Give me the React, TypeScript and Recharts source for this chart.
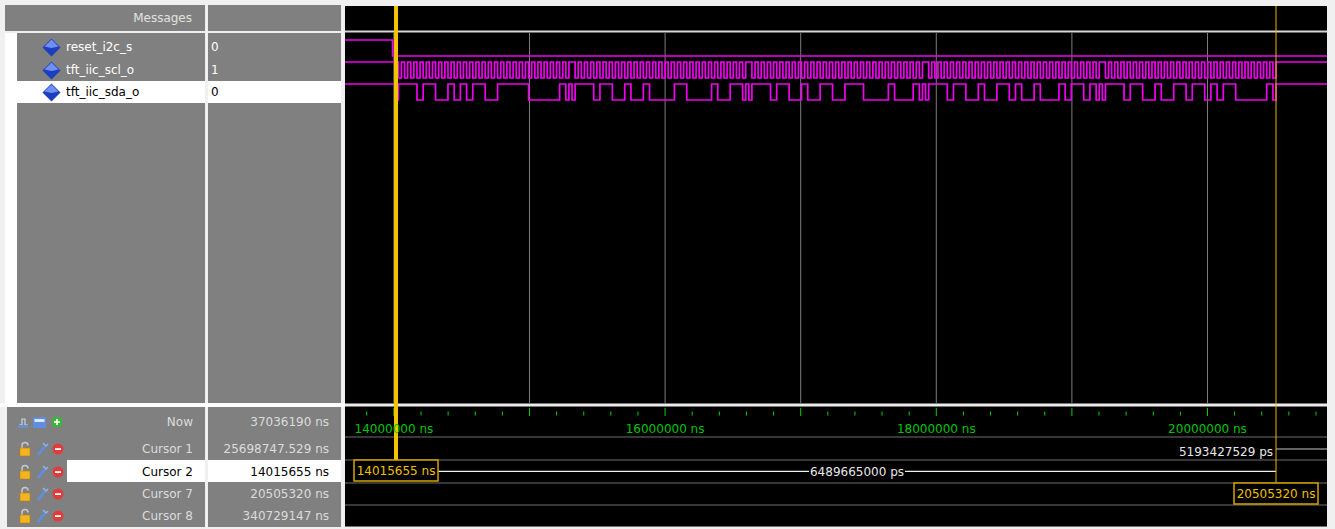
import React from 'react';
import { ComposedChart, Line, XAxis, YAxis, ReferenceLine, ReferenceDot } from 'recharts';

// visible time window of the wave pane (ns)
const T_LEFT = 13639400;
const T_RIGHT = 20881300;

const signalNames = ['reset_i2c_s', 'tft_iic_scl_o', 'tft_iic_sda_o'];

// reset drops just before the first transfer
const resetEdges = [
  { t: T_LEFT, v: 1 },
  { t: 13990000, v: 0 },
];

// I2C bus, sampled every half SCL period; 5 write transfers
const busStart = 14010000;
const halfPeriod = 22871;
// one transfer: start, 27 clocks, stop
const sclFrame = '10101010101010101010' + '10101010101010101010' + '1010101010101010' + '1';
// addr(8) ack reg(8) ack data(8) ack  -- ack released = 1
const sdaBits = [
  '111011001010110011111000001',
  '111011001001000011000010011',
  '111011001001100111000010001',
  '111011001001101001000101101',
  '111011001001101101011000001',
];

const gridTimes = [14000000, 15000000, 16000000, 17000000, 18000000, 19000000, 20000000];
const labelTimes = [14000000, 16000000, 18000000, 20000000];

const cursorNames = ['Now', 'Cursor 1', 'Cursor 2', 'Cursor 7', 'Cursor 8'];
const cursorTimes = [37036190, 25698747.529, 14015655, 20505320, 340729147];

const tickTimes: number[] = [];
for (let t = 13800000; t <= 20800000; t += 200000) tickTimes.push(t);

type Edge = { t: number; v: number };

function frameEdges(frames: string[]): Edge[] {
  const out: Edge[] = [{ t: T_LEFT, v: 1 }];
  let step = 0;
  for (const f of frames) {
    for (const c of f) {
      const v = c === '1' ? 1 : 0;
      if (v !== out[out.length - 1].v) out.push({ t: busStart + step * halfPeriod, v });
      step++;
    }
  }
  return out;
}

const sclEdges = frameEdges(sdaBits.map(() => sclFrame));
const sdaEdges = frameEdges(sdaBits.map((b) => '0' + b.split('').map((c) => c + c).join('') + '01'));
const allEdges = [resetEdges, sclEdges, sdaEdges];

function toPoints(edges: Edge[], row: number) {
  const pts = edges.map((e) => ({ t: e.t, y: e.v ? 34 + 22 * row : 50 + 22 * row }));
  pts.push({ t: T_RIGHT, y: pts[pts.length - 1].y });
  return pts;
}

function valueAt(edges: Edge[], t: number) {
  let v = edges[0].v;
  for (const e of edges) if (e.t <= t) v = e.v;
  return v;
}

const FONT = '"DejaVu Sans", sans-serif';
const WAVE = '#f000f0';
const YEL = '#f5c400';
const GREEN = '#00d400';

function CursorBox({ cx, cy, text }: { cx: number; cy: number; text: string }) {
  return (
    <g>
      <rect x={cx - 42} y={cy - 10.5} width={84} height={21} fill="#000" stroke="#d4a400" strokeWidth={1.5} />
      <text x={cx} y={cy + 4.5} textAnchor="middle" fill="#f0c000" fontSize={12} fontFamily={FONT}>
        {text}
      </text>
    </g>
  );
}

const Diamond = () => (
  <svg width={19} height={19} viewBox="0 0 19 19">
    <polygon points="9.5,0.5 18.5,9.5 9.5,18.5 0.5,9.5" fill="#1c3fc0" />
    <polygon points="9.5,1.5 16.5,8.5 9.5,10 2.5,8.5" fill="#6f90f2" />
  </svg>
);

const CursorIcons = () => (
  <svg width={46} height={16} viewBox="0 0 46 16">
    <path d="M4,7 V4.5 a3,3 0 0 1 6,0" fill="none" stroke="#c9c9c9" strokeWidth={1.5} />
    <rect x={2} y={7} width={10} height={8} fill="#f2b422" stroke="#c08000" strokeWidth={0.6} />
    <line x1={20} y1={14} x2={27} y2={5} stroke="#5b8fe6" strokeWidth={2.5} />
    <path d="M25,2 l3,3 l2,-2" fill="none" stroke="#8fb4f2" strokeWidth={1.5} />
    <circle cx={40} cy={8} r={5.5} fill="#e23b3b" />
    <rect x={37} y={7.2} width={6} height={1.8} fill="#fff" />
  </svg>
);

const NowIcons = () => (
  <svg width={46} height={16} viewBox="0 0 46 16">
    <path d="M1,11 h3 v-6 h3 v6 h3" fill="none" stroke="#c8d4e8" strokeWidth={1.2} />
    <rect x={0} y={11} width={10} height={3} fill="#6a8fc8" />
    <rect x={15} y={3} width={13} height={11} fill="#5f8ee0" />
    <rect x={16.5} y={5} width={10} height={3} fill="#dbe6f8" />
    <circle cx={39} cy={8} r={5.5} fill="#3cb43c" />
    <rect x={36} y={7.2} width={6} height={1.6} fill="#fff" />
    <rect x={38.2} y={5} width={1.6} height={6} fill="#fff" />
  </svg>
);

const abs = (l: number, t: number, w: number, h: number, extra: React.CSSProperties = {}): React.CSSProperties => ({
  position: 'absolute', left: l, top: t, width: w, height: h, ...extra,
});

export default function App() {
  const c1 = cursorTimes[1];
  const c2 = cursorTimes[2];
  const c7 = cursorTimes[3];
  const d17 = Math.round((c1 - c7) * 1000);
  const d27 = Math.round((c7 - c2) * 1000);
  const sigRowTop = [36, 58.5, 81];
  const curRowCenter = [422, 448.5, 471.5, 494, 516];

  return (
    <div style={abs(0, 0, 1335, 529, { background: '#f0f0f0', overflow: 'hidden', fontFamily: FONT, fontSize: 12 })}>
      {/* headers */}
      <div style={abs(5, 5, 200, 26, { background: '#808080', color: '#e2e2e2', textAlign: 'right', lineHeight: '26px', paddingRight: 13, boxSizing: 'border-box' })}>
        Messages
      </div>
      <div style={abs(208, 5, 133, 26, { background: '#808080' })} />

      {/* signal list */}
      <div style={abs(5, 33, 12, 370, { background: '#ffffff' })} />
      <div style={abs(17, 33, 188, 370, { background: '#808080' })} />
      <div style={abs(208, 33, 133, 370, { background: '#808080' })} />
      {signalNames.map((n, i) => {
        const sel = i === 2;
        const fg = sel ? '#000' : '#fff';
        return (
          <React.Fragment key={n}>
            {sel && <div style={abs(17, sigRowTop[i], 188, 22, { background: '#fff' })} />}
            {sel && <div style={abs(208, sigRowTop[i], 133, 22, { background: '#fff' })} />}
            <div style={abs(42, sigRowTop[i] + 2, 19, 19)}><Diamond /></div>
            <div style={abs(66, sigRowTop[i], 135, 22, { color: fg, lineHeight: '22px', whiteSpace: 'nowrap' })}>{n}</div>
            <div style={abs(211, sigRowTop[i], 120, 22, { color: fg, lineHeight: '22px' })}>{valueAt(allEdges[i], c2)}</div>
          </React.Fragment>
        );
      })}

      {/* splitter */}
      <div style={abs(0, 403, 345, 4, { background: '#ffffff' })} />

      {/* cursor list */}
      <div style={abs(7, 407, 198, 120, { background: '#808080' })} />
      <div style={abs(208, 407, 133, 120, { background: '#808080' })} />
      {cursorNames.map((n, i) => {
        const cy = curRowCenter[i];
        const sel = i === 2;
        const fg = sel ? '#000' : '#dcdcdc';
        return (
          <React.Fragment key={n}>
            {sel && <div style={abs(67, cy - 11.5, 138, 22, { background: '#fff' })} />}
            {sel && <div style={abs(208, cy - 11.5, 133, 22, { background: '#fff' })} />}
            <div style={abs(18, cy - 8, 46, 16)}>{i === 0 ? <NowIcons /> : <CursorIcons />}</div>
            <div style={abs(70, cy - 8, 123, 16, { color: fg, textAlign: 'right', lineHeight: '16px' })}>{n}</div>
            <div style={abs(210, cy - 8, 119, 16, { color: fg, textAlign: 'right', lineHeight: '16px', whiteSpace: 'nowrap' })}>
              {cursorTimes[i]} ns
            </div>
          </React.Fragment>
        );
      })}

      {/* wave pane */}
      <div style={abs(345, 6, 982, 397, { background: '#000' })}>
        <ComposedChart width={982} height={397} margin={{ top: 0, right: 0, bottom: 0, left: 0 }}>
          <XAxis type="number" dataKey="t" domain={[T_LEFT, T_RIGHT]} allowDataOverflow hide />
          <YAxis type="number" domain={[0, 397]} reversed allowDataOverflow hide />
          <ReferenceLine y={25.5} stroke="#d6d6d6" strokeWidth={2} />
          {gridTimes.map((t) => (
            <ReferenceLine key={t} segment={[{ x: t, y: 27 }, { x: t, y: 397 }]} stroke="#7c7c7c" />
          ))}
          {allEdges.map((e, i) => (
            <Line
              key={signalNames[i]}
              data={toPoints(e, i)}
              dataKey="y"
              type="stepAfter"
              stroke={WAVE}
              strokeWidth={1.7}
              dot={false}
              activeDot={false}
              isAnimationActive={false}
            />
          ))}
          <ReferenceLine segment={[{ x: c7, y: 0 }, { x: c7, y: 397 }]} stroke="#e8b800" strokeWidth={1} />
          <ReferenceLine segment={[{ x: c2, y: 0 }, { x: c2, y: 397 }]} stroke={YEL} strokeWidth={4} />
        </ComposedChart>
      </div>

      {/* time axis + cursor rows */}
      <div style={abs(345, 403, 982, 124, { background: '#000' })}>
        <ComposedChart width={982} height={124} margin={{ top: 0, right: 0, bottom: 0, left: 0 }} data={[{ t: T_LEFT }, { t: T_RIGHT }]}>
          <XAxis type="number" dataKey="t" domain={[T_LEFT, T_RIGHT]} allowDataOverflow hide />
          <YAxis type="number" domain={[0, 124]} reversed allowDataOverflow hide />
          <ReferenceLine y={2} stroke="#ececec" strokeWidth={3} />
          {[34, 57, 80, 102, 123.5].map((y) => (
            <ReferenceLine key={y} y={y} stroke="#6e6e6e" />
          ))}
          {/* time ruler */}
          {tickTimes.map((t) => {
            const major = t % 1000000 === 0;
            return (
              <ReferenceLine
                key={'tk' + t}
                segment={[{ x: t, y: major ? 5 : 8.5 }, { x: t, y: major ? 13 : 12.5 }]}
                stroke={GREEN}
                strokeWidth={1}
              />
            );
          })}
          {labelTimes.map((t) => (
            <ReferenceDot
              key={'lb' + t}
              x={t}
              y={25}
              r={0}
              shape={(p: any) => (
                <text x={p.cx} y={p.cy + 4.5} textAnchor="middle" fill="#00c400" fontSize={12} fontFamily={FONT}>
                  {t} ns
                </text>
              )}
            />
          ))}
          {/* cursor 1 -> cursor 7 */}
          <ReferenceLine segment={[{ x: c7, y: 46 }, { x: T_RIGHT, y: 46 }]} stroke="#c4c4c4" />
          <ReferenceDot
            x={c7}
            y={46}
            r={0}
            shape={(p: any) => (
              <text x={p.cx - 3} y={p.cy + 7} textAnchor="end" fill="#e8e8e8" fontSize={12} fontFamily={FONT}>
                {d17} ps
              </text>
            )}
          />
          {/* cursor 2 -> cursor 7 */}
          <ReferenceLine segment={[{ x: c2, y: 68.3 }, { x: c7, y: 68.3 }]} stroke="#f0f0f0" strokeWidth={1.2} />
          <ReferenceDot
            x={(c2 + c7) / 2}
            y={68.3}
            r={0}
            shape={(p: any) => (
              <g>
                <rect x={p.cx + 21 - 48} y={p.cy - 8} width={96} height={16} fill="#000" />
                <text x={p.cx + 21} y={p.cy + 4.5} textAnchor="middle" fill="#e8e8e8" fontSize={12} fontFamily={FONT}>
                  {d27} ps
                </text>
              </g>
            )}
          />
          <ReferenceLine segment={[{ x: c7, y: 0 }, { x: c7, y: 80 }]} stroke="#e8b800" strokeWidth={1} />
          <ReferenceLine segment={[{ x: c2, y: 0 }, { x: c2, y: 57 }]} stroke={YEL} strokeWidth={4} />
          <ReferenceDot x={c2} y={67.5} r={0} shape={(p: any) => <CursorBox cx={p.cx} cy={p.cy} text={`${c2} ns`} />} />
          <ReferenceDot x={c7} y={90.5} r={0} shape={(p: any) => <CursorBox cx={p.cx} cy={p.cy} text={`${c7} ns`} />} />
        </ComposedChart>
      </div>
    </div>
  );
}
